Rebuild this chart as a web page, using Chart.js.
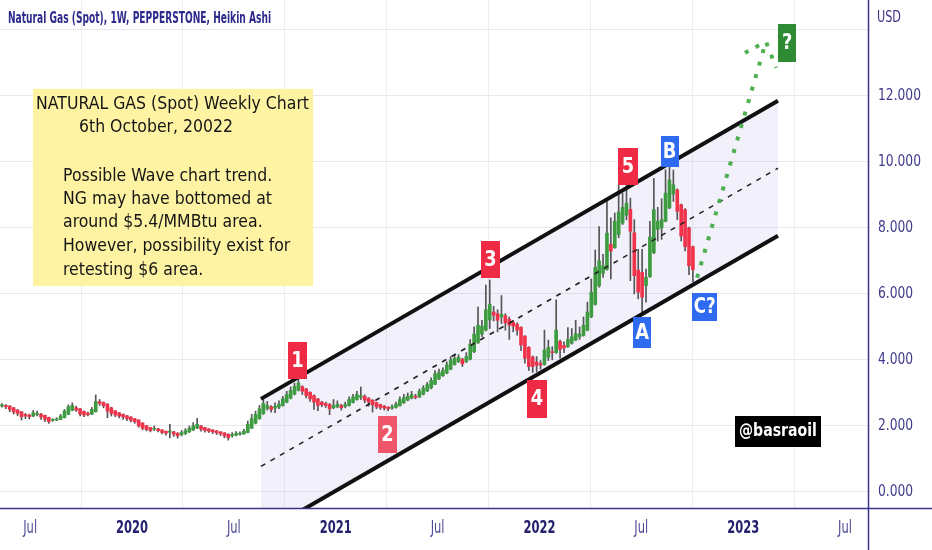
<!DOCTYPE html>
<html>
<head>
<meta charset="utf-8">
<script src="https://cdn.jsdelivr.net/npm/chart.js@4.4.1/dist/chart.umd.min.js"></script>
<style>
  html, body { margin: 0; padding: 0; background: #fff; }
  canvas { display: block; }
</style>
</head>
<body>
<canvas id="myChart" width="932" height="550"></canvas>
<script>
// Weekly Heikin Ashi candles, first bar = week of 13 May 2019
const firstWeek = '2019-05-13';

const haOpen = [
  2.60,2.62,2.60,2.55,2.48,2.43,2.35,2.33,2.30,2.35,
  2.36,2.32,2.26,2.17,2.18,2.20,2.25,2.35,2.47,2.55,
  2.52,2.44,2.39,2.36,2.43,2.74,2.71,2.66,2.55,2.46,
  2.40,2.35,2.31,2.27,2.22,2.18,2.09,2.01,1.95,1.90,
  1.91,1.88,1.84,1.81,1.82,1.78,1.74,1.77,1.82,1.88,
  1.94,2.00,1.95,1.91,1.88,1.85,1.82,1.79,1.75,1.70,
  1.72,1.75,1.76,1.80,1.93,2.08,2.22,2.37,2.53,2.58,
  2.54,2.57,2.62,2.72,2.84,2.96,3.08,3.19,3.12,3.02,
  2.92,2.82,2.72,2.68,2.65,2.55,2.58,2.62,2.59,2.62,
  2.71,2.80,2.87,2.90,2.84,2.78,2.71,2.65,2.60,2.57,
  2.54,2.56,2.61,2.70,2.78,2.84,2.90,2.88,2.96,3.06,
  3.15,3.26,3.42,3.52,3.60,3.72,3.86,3.95,4.02,3.95,
  4.02,4.25,4.52,4.78,4.90,5.21,5.45,5.40,5.30,5.34,
  5.23,5.14,5.08,4.99,4.72,4.38,4.09,3.94,3.89,3.86,
  4.08,4.23,4.22,4.56,4.44,4.40,4.51,4.60,4.70,4.74,
  4.90,5.30,5.68,6.24,6.62,6.74,7.50,7.40,7.80,8.14,
  8.38,8.56,7.85,6.72,6.65,6.25,6.52,7.25,7.95,8.00,
  8.20,8.60,9.02,9.15,8.70,8.55,8.00,7.43
];
const haHigh = [
  2.68,2.65,2.62,2.56,2.50,2.44,2.38,2.36,2.47,2.45,
  2.38,2.33,2.27,2.22,2.25,2.35,2.50,2.64,2.70,2.60,
  2.53,2.46,2.42,2.56,2.94,2.80,2.73,2.68,2.57,2.47,
  2.41,2.37,2.32,2.28,2.23,2.19,2.10,2.02,1.96,2.00,
  1.93,1.89,1.85,2.05,1.84,1.80,1.86,1.92,2.00,2.10,
  2.23,2.02,1.96,1.92,1.89,1.86,1.83,1.80,1.76,1.80,
  1.83,1.82,1.90,2.15,2.35,2.45,2.62,2.80,2.74,2.62,
  2.70,2.76,2.90,3.05,3.18,3.30,3.44,3.22,3.14,3.03,
  2.94,2.84,2.75,2.72,2.68,2.80,2.76,2.66,2.72,2.88,
  2.96,3.05,3.18,2.94,2.86,2.80,2.72,2.66,2.62,2.58,
  2.64,2.72,2.88,2.96,3.00,3.05,2.96,3.12,3.22,3.32,
  3.46,3.68,3.72,3.76,3.94,4.10,4.14,4.16,4.05,4.22,
  4.62,5.00,5.60,5.20,6.27,6.42,5.62,5.52,5.95,5.40,
  5.30,5.20,5.12,5.00,4.74,4.40,4.12,4.10,3.98,4.90,
  4.60,4.40,5.82,4.60,4.55,4.98,4.95,5.20,5.00,5.30,
  5.75,6.45,7.33,8.04,7.20,8.85,8.30,8.45,9.30,9.05,
  9.61,8.90,8.25,7.35,7.35,6.75,8.20,9.50,8.62,8.88,
  9.76,9.90,9.75,9.18,8.72,8.58,8.02,7.45
];
const haLow = [
  2.57,2.52,2.43,2.36,2.31,2.18,2.22,2.21,2.28,2.30,
  2.20,2.13,2.08,2.14,2.16,2.19,2.24,2.34,2.46,2.44,
  2.30,2.28,2.30,2.34,2.42,2.62,2.55,2.25,2.30,2.28,
  2.24,2.20,2.16,2.12,2.08,1.96,1.88,1.85,1.82,1.86,
  1.82,1.76,1.72,1.64,1.68,1.63,1.70,1.74,1.80,1.86,
  1.92,1.84,1.81,1.80,1.77,1.74,1.71,1.64,1.57,1.66,
  1.70,1.72,1.74,1.79,1.92,2.06,2.20,2.35,2.48,2.42,
  2.40,2.52,2.60,2.70,2.82,2.94,3.06,2.95,2.85,2.74,
  2.50,2.46,2.58,2.56,2.34,2.52,2.55,2.48,2.55,2.60,
  2.70,2.78,2.80,2.70,2.60,2.42,2.52,2.50,2.48,2.46,
  2.50,2.54,2.60,2.68,2.76,2.82,2.82,2.86,2.94,3.04,
  3.12,3.25,3.40,3.50,3.58,3.70,3.84,3.92,3.80,3.92,
  4.00,4.22,4.50,4.70,4.88,4.95,5.18,4.85,5.10,4.90,
  4.62,4.85,4.75,4.28,3.90,3.68,3.62,3.64,3.72,3.84,
  3.98,4.00,4.20,4.05,4.22,4.38,4.48,4.58,4.62,4.72,
  4.88,5.28,5.66,6.20,6.50,6.72,6.45,7.38,7.70,8.10,
  8.24,6.40,6.00,5.85,5.42,5.75,6.50,7.22,7.60,7.65,
  8.18,8.58,8.80,8.25,7.60,7.30,6.58,6.37
];
const haClose = [
  2.64,2.58,2.50,2.42,2.38,2.28,2.30,2.28,2.40,2.37,
  2.27,2.20,2.13,2.19,2.21,2.30,2.45,2.58,2.62,2.48,
  2.36,2.33,2.34,2.50,2.74,2.68,2.61,2.45,2.38,2.33,
  2.30,2.27,2.22,2.17,2.13,2.00,1.93,1.89,1.86,1.92,
  1.86,1.80,1.78,1.84,1.75,1.70,1.80,1.86,1.93,2.00,
  2.05,1.90,1.86,1.84,1.82,1.79,1.76,1.70,1.64,1.74,
  1.78,1.76,1.84,2.05,2.22,2.35,2.52,2.68,2.62,2.50,
  2.60,2.66,2.82,2.95,3.08,3.20,3.30,3.05,2.92,2.82,
  2.72,2.62,2.64,2.62,2.52,2.62,2.66,2.55,2.65,2.80,
  2.88,2.95,2.92,2.78,2.72,2.64,2.58,2.56,2.54,2.52,
  2.58,2.66,2.80,2.86,2.90,2.95,2.86,3.05,3.15,3.25,
  3.38,3.58,3.62,3.68,3.85,4.00,4.05,4.08,3.88,4.10,
  4.48,4.78,5.05,5.02,5.52,5.68,5.35,5.20,5.38,5.12,
  5.05,5.02,4.90,4.45,4.05,3.80,3.80,3.84,3.84,4.30,
  4.38,4.22,4.90,4.32,4.36,4.62,4.70,4.80,4.78,5.05,
  5.45,6.05,6.80,7.00,6.85,7.84,7.30,8.20,8.48,8.62,
  8.75,7.90,6.55,6.05,5.90,6.50,7.72,8.55,8.20,8.25,
  9.05,9.45,9.30,8.50,7.75,7.43,6.85,6.73
];

// trend channel drawn on the chart (decimal year, price)
const channelX = [2020.633, 2023.171];
const channelUpper = [2.82, 11.85];
const channelLower = [-1.27, 7.76];
const channelMid = [0.775, 9.805];

// green dotted projection
const forecastX = [2022.774, 2023.112, 2023.162];
const forecastY = [6.49, 13.64, 12.85];
const forecastWingX = [2023.009, 2023.112];
const forecastWingY = [13.30, 13.64];

// axis ticks
const xTickValues = [2019.5, 2020, 2020.5, 2021, 2021.5, 2022, 2022.5, 2023, 2023.5];
const xTickLabels = ['Jul', '2020', 'Jul', '2021', 'Jul', '2022', 'Jul', '2023', 'Jul'];

const waveLabels = [
  { text: '1',  x: 2020.812, y: 3.99,  w: 19, h: 37, color: '#ee2a44' },
  { text: '2',  x: 2021.254, y: 1.74,  w: 19, h: 37, color: '#f0566a' },
  { text: '3',  x: 2021.760, y: 7.03,  w: 19, h: 37, color: '#ee2a44' },
  { text: '4',  x: 2021.988, y: 2.82,  w: 20, h: 38, color: '#ee2a44' },
  { text: '5',  x: 2022.435, y: 9.86,  w: 20, h: 37, color: '#ee2a44' },
  { text: 'B',  x: 2022.639, y: 10.30, w: 18, h: 31, color: '#2f6bf0' },
  { text: 'A',  x: 2022.504, y: 4.83,  w: 18, h: 31, color: '#2f6bf0' },
  { text: 'C?', x: 2022.811, y: 5.61,  w: 25, h: 28, color: '#2f6bf0' },
  { text: '?',  x: 2023.216, y: 13.61, w: 18, h: 38, color: '#2e8b34' }
];

const noteBox = { x1: 2019.514, x2: 2020.889, yTop: 12.21, yBottom: 6.24 };
const noteLines = [
  { text: 'NATURAL GAS (Spot) Weekly Chart', dx: 3,  dy: 16 },
  { text: '6th October, 20022',              dx: 46, dy: 39 },
  { text: 'Possible Wave chart trend.',      dx: 30, dy: 88 },
  { text: 'NG may have bottomed at',         dx: 30, dy: 111 },
  { text: 'around $5.4/MMBtu area.',         dx: 30, dy: 134 },
  { text: 'However, possibility exist for',  dx: 30, dy: 158 },
  { text: 'retesting $6 area.',              dx: 30, dy: 182 }
];
const tagBox = { text: '@basraoil', x: 2023.171, y: 1.83, w: 86, h: 31 };

const FONT = "'DejaVu Sans', sans-serif";
const upColor = '#3c9c3f';
const downColor = '#f0334a';

function toYear(d) {
  const y = d.getUTCFullYear();
  const s = Date.UTC(y, 0, 1), e = Date.UTC(y + 1, 0, 1);
  return y + (d.getTime() - s) / (e - s);
}
const start = new Date(firstWeek + 'T00:00:00Z');
const weekX = haOpen.map((_, i) => toYear(new Date(start.getTime() + i * 7 * 86400000)));

const bodies = weekX.map((x, i) => ({ x: x, y: [haOpen[i], haClose[i]] }));
const wicks = weekX.map((x, i) => ({ x: x, y: [haLow[i], haHigh[i]] }));
const bodyColors = haOpen.map((o, i) => haClose[i] >= o ? upColor : downColor);

const pts = (xs, ys) => xs.map((x, i) => ({ x: x, y: ys[i] }));

function squeeze(ctx, text, font, width) {
  ctx.save();
  ctx.font = font;
  const w = ctx.measureText(text).width;
  ctx.restore();
  return width / w;
}
function drawText(ctx, text, x, y, font, color, sx, align) {
  ctx.save();
  ctx.font = font;
  ctx.fillStyle = color;
  ctx.textAlign = align || 'left';
  ctx.textBaseline = 'middle';
  ctx.translate(x, y);
  ctx.scale(sx, 1);
  ctx.fillText(text, 0, 0);
  ctx.restore();
}

const overlay = {
  id: 'overlay',
  afterDatasetsDraw(chart) {
    const { ctx, scales: { x, y } } = chart;

    // note box
    const bx = x.getPixelForValue(noteBox.x1), by = y.getPixelForValue(noteBox.yTop);
    const bw = x.getPixelForValue(noteBox.x2) - bx, bh = y.getPixelForValue(noteBox.yBottom) - by;
    ctx.fillStyle = '#fdf3a2';
    ctx.fillRect(bx, by, bw, bh);
    const noteFont = `17px ${FONT}`;
    const nsx = squeeze(ctx, noteLines[0].text, noteFont, 273);
    noteLines.forEach(l => drawText(ctx, l.text, bx + l.dx, by + l.dy, noteFont, '#151515', nsx));

    // wave labels
    waveLabels.forEach(l => {
      const px = x.getPixelForValue(l.x), py = y.getPixelForValue(l.y);
      ctx.fillStyle = l.color;
      ctx.fillRect(Math.round(px - l.w / 2), Math.round(py - l.h / 2), l.w, l.h);
      const f = `bold 21px ${FONT}`;
      const sx = l.text.length > 1 ? squeeze(ctx, l.text, f, l.w - 3) : 0.85;
      drawText(ctx, l.text, px, py + 1, f, '#ffffff', sx, 'center');
    });

    // author tag
    const tx = x.getPixelForValue(tagBox.x), ty = y.getPixelForValue(tagBox.y);
    ctx.fillStyle = '#000000';
    ctx.fillRect(Math.round(tx - tagBox.w / 2), Math.round(ty - tagBox.h / 2), tagBox.w, tagBox.h);
    const tf = `bold 18px ${FONT}`;
    drawText(ctx, tagBox.text, tx, ty, tf, '#ffffff', squeeze(ctx, tagBox.text, tf, 78), 'center');
  },
  afterDraw(chart) {
    const { ctx, chartArea: a, scales: { x, y } } = chart;

    // y tick labels
    const yf = `16px ${FONT}`;
    const ysx = squeeze(ctx, '12.000', yf, 43);
    y.ticks.forEach(t => {
      if (t.value > 13) return;
      drawText(ctx, t.value.toFixed(3), a.right + 10, y.getPixelForValue(t.value), yf, '#3f3a8c', ysx);
    });

    // x tick labels
    const xfBold = `bold 17px ${FONT}`, xfNorm = `17px ${FONT}`;
    const xsx = squeeze(ctx, '2020', xfBold, 32);
    x.ticks.forEach(t => {
      const idx = xTickValues.indexOf(t.value);
      const label = xTickLabels[idx];
      const isYear = label !== 'Jul';
      drawText(ctx, label, x.getPixelForValue(t.value), a.bottom + 21,
        isYear ? xfBold : xfNorm, isYear ? '#24206e' : '#4e4a96', xsx, 'center');
    });

    // axis lines across the whole canvas
    ctx.save();
    ctx.strokeStyle = '#3b3486';
    ctx.lineWidth = 1.5;
    ctx.beginPath();
    ctx.moveTo(a.right + 0.5, 0);
    ctx.lineTo(a.right + 0.5, chart.height);
    ctx.moveTo(0, a.bottom + 0.5);
    ctx.lineTo(chart.width, a.bottom + 0.5);
    ctx.stroke();
    ctx.restore();

    // title and currency
    const titleFont = `bold 15px ${FONT}`;
    const title = 'Natural Gas (Spot), 1W, PEPPERSTONE, Heikin Ashi';
    drawText(ctx, title, 8, 19, titleFont, '#2d2a8c', squeeze(ctx, title, titleFont, 263));
    const usdFont = `16px ${FONT}`;
    drawText(ctx, 'USD', a.right + 9, 18, usdFont, '#3b3486', squeeze(ctx, 'USD', usdFont, 24));
  }
};

const data = {
  datasets: [
    {
      type: 'line', data: pts(channelX, channelUpper), borderColor: '#111111', borderWidth: 4,
      pointRadius: 0, fill: '+1', backgroundColor: 'rgba(190, 180, 235, 0.2)', clip: 0, order: 1
    },
    {
      type: 'line', data: pts(channelX, channelLower), borderColor: '#111111', borderWidth: 4,
      pointRadius: 0, fill: false, clip: 0, order: 1
    },
    {
      type: 'line', data: pts(channelX, channelMid), borderColor: '#222222', borderWidth: 1.6,
      borderDash: [5, 6], pointRadius: 0, fill: false, clip: 0, order: 1
    },
    {
      type: 'line', data: pts(forecastX, forecastY), borderColor: '#4caf50', borderWidth: 4,
      borderDash: [4, 9], borderCapStyle: 'butt', pointRadius: 0, fill: false, order: 0
    },
    {
      type: 'line', data: pts(forecastWingX, forecastWingY), borderColor: '#4caf50', borderWidth: 4,
      borderDash: [4, 8], borderCapStyle: 'butt', pointRadius: 0, fill: false, order: 0
    },
    {
      type: 'bar', data: bodies, backgroundColor: bodyColors, barThickness: 3,
      grouped: false, minBarLength: 1, order: 2
    },
    {
      type: 'bar', data: wicks, backgroundColor: '#555555', barThickness: 1,
      grouped: false, order: 3
    }
  ]
};

const config = {
  type: 'line',
  data: data,
  options: {
    responsive: false,
    animation: false,
    layout: { padding: 0 },
    plugins: {
      legend: { display: false },
      tooltip: { enabled: false },
      filler: { drawTime: 'beforeDatasetsDraw' }
    },
    scales: {
      x: {
        type: 'linear', min: 2019.352, max: 2023.613, offset: false,
        grid: { color: '#ececf1', drawTicks: false },
        border: { display: false },
        ticks: { display: false },
        afterBuildTicks: s => { s.ticks = xTickValues.map(v => ({ value: v })); },
        afterFit: s => { s.height = 42; }
      },
      y: {
        type: 'linear', position: 'right', min: -0.485, max: 14.9,
        grid: { color: '#e8e8ed', drawTicks: false },
        border: { display: false },
        ticks: { display: false, stepSize: 2, includeBounds: false },
        afterFit: s => { s.width = 64; }
      }
    }
  },
  plugins: [overlay]
};

const myChart = new Chart(document.getElementById('myChart'), config);
</script>
</body>
</html>
